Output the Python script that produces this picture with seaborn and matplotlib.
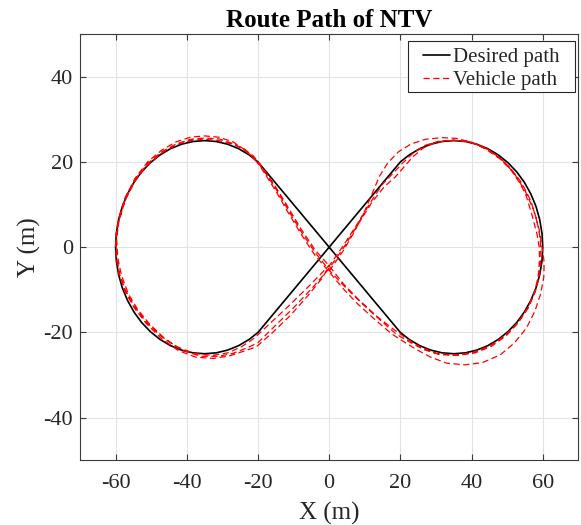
import matplotlib
matplotlib.use("Agg")
import matplotlib.pyplot as plt
from matplotlib.patches import Rectangle
import seaborn as sns
import pandas as pd

# Desired path: origin -> right loop (clockwise) -> cross -> left loop -> origin
desired_x = [0, 20, 22.5, 25.43, 28.53, 31.74, 35, 38.26, 41.47, 44.57, 47.5, 50.22, 52.68, 54.83,
             56.65, 58.10, 59.15, 59.79, 60, 59.79, 59.15, 58.10, 56.65, 54.83, 52.68, 50.22, 47.5,
             44.57, 41.47, 38.26, 35, 31.74, 28.53, 25.43, 22.5, 20,
             -20, -22.5, -25.43, -28.53, -31.74, -35, -38.26, -41.47, -44.57, -47.5, -50.22, -52.68,
             -54.83, -56.65, -58.10, -59.15, -59.79, -60, -59.79, -59.15, -58.10, -56.65, -54.83,
             -52.68, -50.22, -47.5, -44.57, -41.47, -38.26, -35, -31.74, -28.53, -25.43, -22.5, -20, 0]
desired_y = [0, 20, 21.65, 23.10, 24.15, 24.79, 25, 24.79, 24.15, 23.10, 21.65, 19.83, 17.68, 15.22,
             12.5, 9.57, 6.47, 3.26, 0, -3.26, -6.47, -9.57, -12.5, -15.22, -17.68, -19.83, -21.65,
             -23.10, -24.15, -24.79, -25, -24.79, -24.15, -23.10, -21.65, -20,
             20, 21.65, 23.10, 24.15, 24.79, 25, 24.79, 24.15, 23.10, 21.65, 19.83, 17.68,
             15.22, 12.5, 9.57, 6.47, 3.26, 0, -3.26, -6.47, -9.57, -12.5, -15.22,
             -17.68, -19.83, -21.65, -23.10, -24.15, -24.79, -25, -24.79, -24.15, -23.10, -21.65, -20, 0]

# Vehicle path, read lap by lap
lap1_x = [0, 4, 7, 10, 12.2, 14.1, 16.5, 19.5, 23, 27, 31.8, 36, 40.3, 44, 47.7, 51, 53.6, 55.3, 57,
          58.4, 59, 59.1, 58.7, 57.7, 55.8, 53, 49.7, 45.5, 41, 36, 31, 26.5, 22.5, 19, 15, 10, 5, 0,
          -4, -8, -12, -15, -17.5, -19.5, -21.5, -24, -27, -31, -35, -39, -43, -47, -51, -54.5,
          -57.3, -59.1, -59.7, -59.4, -58.4, -56.4, -53.8, -50.3, -46, -41, -36, -31, -27, -23, -20,
          -15, -10, -5]
lap1_y = [-5.6, -0.8, 3.5, 8.5, 12.8, 16.6, 19.8, 22.4, 24.2, 25.3, 25.7, 25.5, 24.5, 23, 20.9, 18.2,
          15, 12.2, 7.5, 3, 0, -3, -7, -10.5, -14.2, -17.8, -20.8, -23.3, -24.8, -25.4, -25.2, -24,
          -22.2, -20.5, -17.6, -13.8, -9.8, -5.4, -1.2, 3.8, 9.4, 13.7, 16.9, 19.3, 21.1, 22.9, 24.3,
          25.4, 25.6, 25.3, 24.2, 22.4, 19.6, 15.9, 11.3, 6, 2, -2.5, -6.5, -11, -14.6, -18.2, -21.6,
          -24.3, -25.6, -25.6, -24.9, -23.6, -22.4, -18.3, -14.2, -9.8]

lap2_x = [0, 4, 8, 12, 15.5, 18.5, 21, 23.5, 26.5, 30, 35, 40, 44.5, 48.5, 52, 55, 57.4, 59, 59.8,
          60.4, 60.3, 59.4, 57.8, 55.4, 52, 48, 43, 38, 33, 28.5, 24.5, 21, 17.5, 13, 8, 4, 0, -4,
          -8, -12, -15, -17.5, -19.5, -21.5, -24, -27, -31, -35, -39, -43, -47, -51, -54.5, -57.4,
          -59.3, -60, -59.8, -59, -57.3, -54.8, -51.5, -47.3, -42.5, -37.5, -32.5, -28, -24, -20.5,
          -16, -11, -6, -2]
lap2_y = [-5, -0.2, 5.2, 10.5, 14.2, 16.4, 18.8, 21.2, 23.3, 24.6, 25.1, 24.6, 23, 20.6, 17.3, 13.3,
          8.8, 4.2, 0, -3.5, -7, -11, -15, -19, -22.5, -25.3, -27.1, -27.6, -27.2, -25.8, -24, -22.2,
          -20.3, -17.1, -13.3, -9.8, -5.8, -1.9, 3.2, 8.8, 13.2, 16.5, 19.1, 21.2, 23, 24.7, 25.8,
          26.1, 25.8, 24.7, 22.8, 20, 16.2, 11.5, 6.2, 2, -2.5, -6.5, -10.5, -14.2, -17.8, -21.3,
          -24.2, -25.8, -26.1, -25.5, -24.4, -23.4, -20.1, -16.1, -11.4, -7.3]

lap3_x = [0, 4, 8, 12, 15, 17.8, 20.5, 23.5, 27, 31, 35, 39, 43, 47, 50.8, 54, 56.6, 58.3, 59.3,
          59.5, 59.1, 57.9, 55.9, 53, 49.3, 45, 40, 35, 30, 25.5, 21.5, 18, 13.5, 8.5, 4, 0, -4, -8,
          -12, -15, -17.5, -19.5, -21.3, -24, -27, -31, -35, -39, -43, -47, -51, -54.5, -57.3,
          -59.2, -59.9, -59.7, -58.9, -57.2, -54.8, -51.5, -47.5, -43, -38, -33, -28.5, -24.5, -21,
          -16, -11, -6, -2, 0]
lap3_y = [-4.4, 0.4, 5.6, 11, 14.8, 17.2, 19.6, 22, 23.9, 24.9, 25.1, 24.8, 23.6, 21.6, 18.7, 15.2,
          11, 6.5, 2, -2.5, -6.5, -10.5, -14.3, -17.8, -20.8, -23.2, -24.8, -25.3, -24.9, -23.4,
          -21.3, -19.2, -16.3, -12.5, -8.6, -4.4, -0.6, 4.4, 10, 14.1, 17.2, 19.5, 21.4, 23.1, 24.1,
          25, 25.3, 25, 24, 22.1, 19.3, 15.6, 11, 5.8, 1.5, -2.5, -6.3, -10.2, -13.8, -17.4, -20.7,
          -23.3, -24.9, -25.4, -24.8, -23.3, -21.3, -17.4, -13.5, -9.4, -6.0, -4.2]

vehicle_x = lap1_x + lap2_x + lap3_x
vehicle_y = lap1_y + lap2_y + lap3_y

x_ticks = [-60, -40, -20, 0, 20, 40, 60]
y_ticks = [-40, -20, 0, 20, 40]

sns.set_theme(style="whitegrid")
plt.rcParams['font.family'] = ['Liberation Serif', 'DejaVu Serif']
plt.rcParams['axes.unicode_minus'] = False

fig = plt.figure(figsize=(5.81, 5.25), dpi=100)
ax = fig.add_axes([0.1377, 0.1232, 0.8577, 0.812])
ax.set_facecolor('white')

desired = pd.DataFrame({'x': desired_x, 'y': desired_y})
vehicle = pd.DataFrame({'x': vehicle_x, 'y': vehicle_y})

sns.lineplot(data=desired, x='x', y='y', sort=False, estimator=None, color='black',
             linewidth=1.2, ax=ax, label='Desired path')
sns.lineplot(data=vehicle, x='x', y='y', sort=False, estimator=None, color='red',
             linewidth=0.9, linestyle=(0, (5, 2.8)), ax=ax, label='Vehicle path')

ax.set_xlim(-70, 70)
ax.set_ylim(-50, 50)
ax.set_xticks(x_ticks)
ax.set_yticks(y_ticks)
ax.grid(True, color='#e3e3e3', linewidth=0.8)
for s in ax.spines.values():
    s.set_visible(True)
    s.set_color('#3a3a3a')
    s.set_linewidth(0.8)
ax.tick_params(direction='in', length=4, width=0.8, color='#3a3a3a', labelsize=16,
               labelcolor='#262626', top=True, right=True, bottom=True, left=True)
ax.tick_params(axis='x', pad=10)
ax.tick_params(axis='y', pad=5)

ax.set_xlabel('X (m)', fontsize=18, color='#262626', labelpad=6)
ax.set_ylabel('Y (m)', fontsize=18, color='#262626', labelpad=2)
ax.set_title('Route Path of NTV', fontsize=18, fontweight='bold', color='black', pad=5)

# legend box drawn separately to get MATLAB-like padding
ax.add_patch(Rectangle((0.6582, 0.8647), 0.3352, 0.1196, transform=ax.transAxes,
                       facecolor='white', edgecolor='#262626', linewidth=0.8, zorder=4))
leg = ax.legend(loc='upper left', bbox_to_anchor=(0.6883, 0.968), borderaxespad=0,
                fontsize=15, frameon=False, borderpad=0, labelspacing=0.15,
                handlelength=1.3, handletextpad=0.15)
leg.set_zorder(5)

fig.savefig('out.png', dpi=100)
